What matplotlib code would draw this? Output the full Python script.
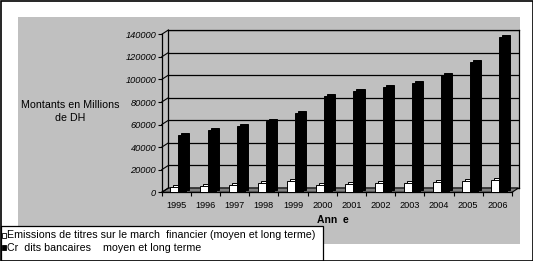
import numpy as np
import matplotlib
matplotlib.use("Agg")
import matplotlib.pyplot as plt
from matplotlib.patches import Rectangle, Polygon
from matplotlib.lines import Line2D
from matplotlib.transforms import offset_copy

plt.rcParams['font.family'] = ['Liberation Sans', 'DejaVu Sans']

years = ['1995', '1996', '1997', '1998', '1999', '2000',
         '2001', '2002', '2003', '2004', '2005', '2006']
emissions = [4500, 6000, 6500, 8000, 10000, 6800, 7300, 7800, 8200, 9300, 10300, 10700]
credits = [51000, 55500, 59000, 63500, 70500, 85500, 89500, 93500, 96500, 103500, 115500, 137500]
yticks = [0, 20000, 40000, 60000, 80000, 100000, 120000, 140000]

label_emis = "Emissions de titres sur le march  financier (moyen et long terme)"
label_cred = "Cr  dits bancaires    moyen et long terme"

W, H = 533, 261
def fx(px):
    return px / W
def fy(py):
    return 1 - py / H

fig = plt.figure(figsize=(W / 100, H / 100), dpi=100)
fig.patch.set_facecolor('white')

# grey chart area
fig.add_artist(Rectangle((fx(18), fy(244)), fx(520) - fx(18), fy(17) - fy(244),
                         transform=fig.transFigure, facecolor='#c0c0c0',
                         edgecolor='none', zorder=-10))

# back wall (3D depth)
ax_back = fig.add_axes([fx(168.4), fy(188), fx(518.5) - fx(168.4), fy(30) - fy(188)])
ax_back.set_zorder(0)
ax_back.set_facecolor('#c0c0c0')
ax_back.set_xlim(0, 12)
ax_back.set_ylim(0, 140000)
for v in yticks:
    ax_back.axhline(v, color='black', lw=0.9)
ax_back.set_xticks([])
ax_back.set_yticks([])
for s in ax_back.spines.values():
    s.set_color('black')
    s.set_linewidth(0.9)

# front axes
ax = fig.add_axes([fx(161.7), fy(192.3), fx(512) - fx(161.7), fy(34.3) - fy(192.3)])
ax.set_zorder(1)
ax.patch.set_alpha(0)
ax.set_xlim(0, 12)
ax.set_ylim(0, 140000)
ax.spines['top'].set_visible(False)
ax.spines['right'].set_visible(False)
ax.spines['left'].set_linewidth(0.9)
ax.spines['bottom'].set_linewidth(0.9)

x = np.arange(len(years))
w = 0.275
shift = 0.07
side = offset_copy(ax.transData, fig=fig, x=3, y=2, units='dots')
ax.bar(x + 0.5 - w + shift, emissions, w, align='edge', color='white',
       edgecolor='black', lw=0.7, transform=side, zorder=2)
ax.bar(x + 0.5 - w + shift, emissions, w, align='edge', color='white',
       edgecolor='black', lw=0.7, zorder=3)
ax.bar(x + 0.5 + shift, credits, w, align='edge', color='black',
       edgecolor='black', lw=0.7, transform=side, zorder=4)
ax.bar(x + 0.5 + shift, credits, w, align='edge', color='black',
       edgecolor='black', lw=0.7, zorder=5)

ax.set_yticks(yticks)
ax.set_yticklabels([str(v) for v in yticks], fontsize=6.7, style='italic')
ax.tick_params(axis='y', length=3, width=0.8, pad=1, direction='out')
ax.set_xticks(np.arange(13))
ax.set_xticklabels([])
ax.tick_params(axis='x', which='major', length=3, width=0.8, direction='out')
ax.set_xticks(x + 0.5, minor=True)
ax.set_xticklabels(years, minor=True, fontsize=6.6)
ax.tick_params(axis='x', which='minor', length=0, pad=6)

# floor and side diagonals
fig.canvas.draw()
to_fig = fig.transFigure.inverted()
fl = ax.transData.transform([(0, 0), (12, 0)])
bl = ax_back.transData.transform([(12, 0), (0, 0)])
floor = to_fig.transform(np.vstack([fl, bl]))
ax.add_patch(Polygon(floor, closed=True, transform=fig.transFigure,
                     facecolor='#808080', edgecolor='black', lw=0.8,
                     zorder=1, clip_on=False))
for v in yticks:
    p0 = to_fig.transform(ax.transData.transform((0, v)))
    p1 = to_fig.transform(ax_back.transData.transform((0, v)))
    fig.add_artist(Line2D([p0[0], p1[0]], [p0[1], p1[1]], color='black',
                          lw=0.8, transform=fig.transFigure))

fig.text(fx(70), fy(105), "Montants en Millions", fontsize=7.7, ha='center', va='center')
fig.text(fx(70), fy(118), "de DH", fontsize=7.7, ha='center', va='center')
fig.text(fx(332.5), fy(220), "Ann  e", fontsize=7.5, fontweight='bold',
         ha='center', va='center')

# legend box
fig.add_artist(Rectangle((fx(0.5), fy(260.5)), fx(323) - fx(0.5), fy(226) - fy(260.5),
                         transform=fig.transFigure, facecolor='white',
                         edgecolor='black', lw=0.9, zorder=5))
fig.add_artist(Rectangle((fx(1.5), fy(237.5)), fx(5.5) - fx(1.5), fy(233) - fy(237.5),
                         transform=fig.transFigure, facecolor='white',
                         edgecolor='black', lw=0.6, zorder=6))
fig.add_artist(Rectangle((fx(1.5), fy(250)), fx(5.5) - fx(1.5), fy(245) - fy(250),
                         transform=fig.transFigure, facecolor='black',
                         edgecolor='black', lw=0.6, zorder=6))
fig.text(fx(7), fy(235.5), label_emis, fontsize=7.7, va='center', zorder=7)
fig.text(fx(7), fy(248), label_cred, fontsize=7.7, va='center', zorder=7)

# outer border
fig.add_artist(Rectangle((fx(0.5), fy(260.5)), fx(532.5) - fx(0.5), fy(0.5) - fy(260.5),
                         transform=fig.transFigure, facecolor='none',
                         edgecolor='black', lw=1.2, zorder=10))

fig.savefig("out.png", dpi=100)
